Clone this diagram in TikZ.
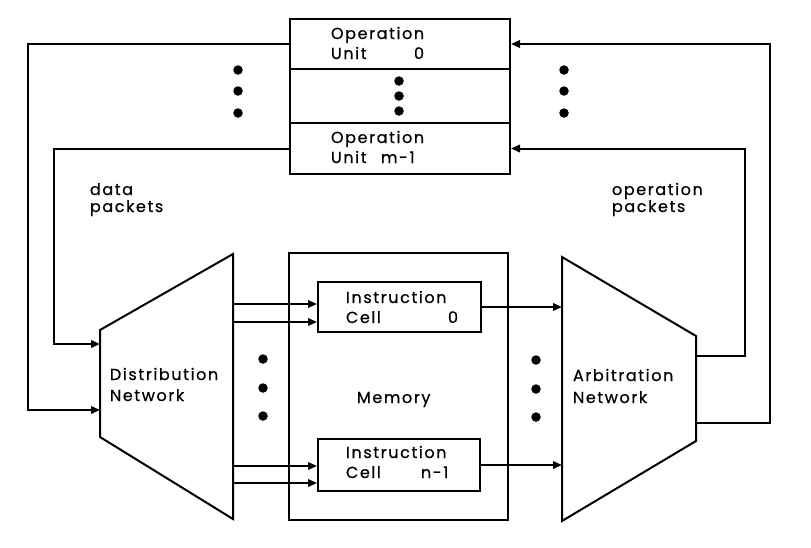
\documentclass[tikz,border=0pt]{standalone}
\usepackage{fontspec}
\setmainfont{Poppins}[LetterSpace=10,FakeBold=0.6]
\usetikzlibrary{arrows.meta}
\begin{document}
\begin{tikzpicture}[x=1pt,y=-1pt, line width=2pt,
  >={Triangle[length=9pt,width=7.5pt]},
  box/.style={draw, rectangle, inner sep=0pt, anchor=north west},
  lbl/.style={anchor=base west, inner sep=0pt, font=\fontsize{16}{19}\selectfont},
  dotc/.style={circle, fill, inner sep=0pt, minimum size=9.5pt}]
\useasboundingbox (0,0) rectangle (811,547);

% operation unit stack
\node[box, minimum width=220pt, minimum height=50pt] (ou0) at (289,18) {};
\node[box, minimum width=220pt, minimum height=54pt] (oud) at (289,68) {};
\node[box, minimum width=220pt, minimum height=51pt] (oum) at (289,122) {};
\node[lbl] (t1) at (330,39) {Operation};
\node[lbl] (t2) at (330,59) {Unit};
\node[lbl] (t3) at (413,59) {0};
\node[lbl] (t4) at (330,143) {Operation};
\node[lbl] (t5) at (330,163) {Unit};
\node[lbl] (t6) at (380,163) {m-1};

% memory and cells
\node[box, minimum width=219pt, minimum height=267pt] (mem) at (288,252) {};
\node[box, minimum width=163pt, minimum height=50pt] (cell0) at (317,281) {};
\node[box, minimum width=162pt, minimum height=52pt] (celln) at (317,438) {};
\node[lbl] (c1) at (345,303) {Instruction};
\node[lbl] (c2) at (345,323) {Cell};
\node[lbl] (c3) at (447,323) {0};
\node[lbl] (c4) at (345,458) {Instruction};
\node[lbl] (c5) at (345,478) {Cell};
\node[lbl] (c6) at (420,478) {n-1};
\node[lbl] (memt) at (356,403) {Memory};

% distribution network
\coordinate (dTL) at (100,330);
\coordinate (dTR) at (233,254);
\coordinate (dBR) at (233,519);
\coordinate (dBL) at (100,437);
\draw (dTL) -- (dTR) -- (dBR) -- (dBL) -- cycle;
\node[lbl] (dn1) at (109,380) {Distribution};
\node[lbl] (dn2) at (109,401) {Network};

% arbitration network
\coordinate (aTL) at (562,257);
\coordinate (aTR) at (696,336);
\coordinate (aBR) at (696,441);
\coordinate (aBL) at (562,521);
\draw (aTL) -- (aTR) -- (aBR) -- (aBL) -- cycle;
\node[lbl] (an1) at (572,381) {Arbitration};
\node[lbl] (an2) at (572,403) {Network};

% labels
\node[lbl] (dp1) at (89,195) {data};
\node[lbl] (dp2) at (89,212) {packets};
\node[lbl] (op1) at (611,195) {operation};
\node[lbl] (op2) at (611,212) {packets};

% loops
\coordinate (lout) at (28,410);
\coordinate (lin) at (54,344);
\coordinate (rout) at (770,423);
\coordinate (rin) at (745,356);
\draw[->] (ou0.west) -| (lout) -- (lout -| dTL);
\draw[->] (oum.west) -| (lin) -- (lin -| dTL);
\draw[->] (rout -| aTR) -- (rout) |- (ou0.east);
\draw[->] (rin -| aTR) -- (rin) |- (oum.east);

% distribution -> cells
\draw[->] ([yshift=3pt]cell0.west -| dTR) -- ([yshift=3pt]cell0.west);
\draw[->] ([yshift=-15pt]cell0.west -| dTR) -- ([yshift=-15pt]cell0.west);
\draw[->] ([yshift=-1pt]celln.west -| dTR) -- ([yshift=-1pt]celln.west);
\draw[->] ([yshift=-18pt]celln.west -| dTR) -- ([yshift=-18pt]celln.west);

% cells -> arbitration
\draw[->] (cell0.east) -- (cell0.east -| aTL);
\draw[->] (celln.east) -- (celln.east -| aTL);

% dots
\foreach \y [count=\i] in {70,91,113} {
  \node[dotc] (ld\i) at (238,\y) {};
  \node[dotc] (rd\i) at (564,\y) {};
}
\foreach \y [count=\i] in {81,96,111} \node[dotc] (cd\i) at (399,\y) {};
\foreach \y [count=\i] in {359,388,416} {
  \node[dotc] (md\i) at (263,\y) {};
  \node[dotc] (ad\i) at (536,\y+1) {};
}
\end{tikzpicture}
\end{document}
